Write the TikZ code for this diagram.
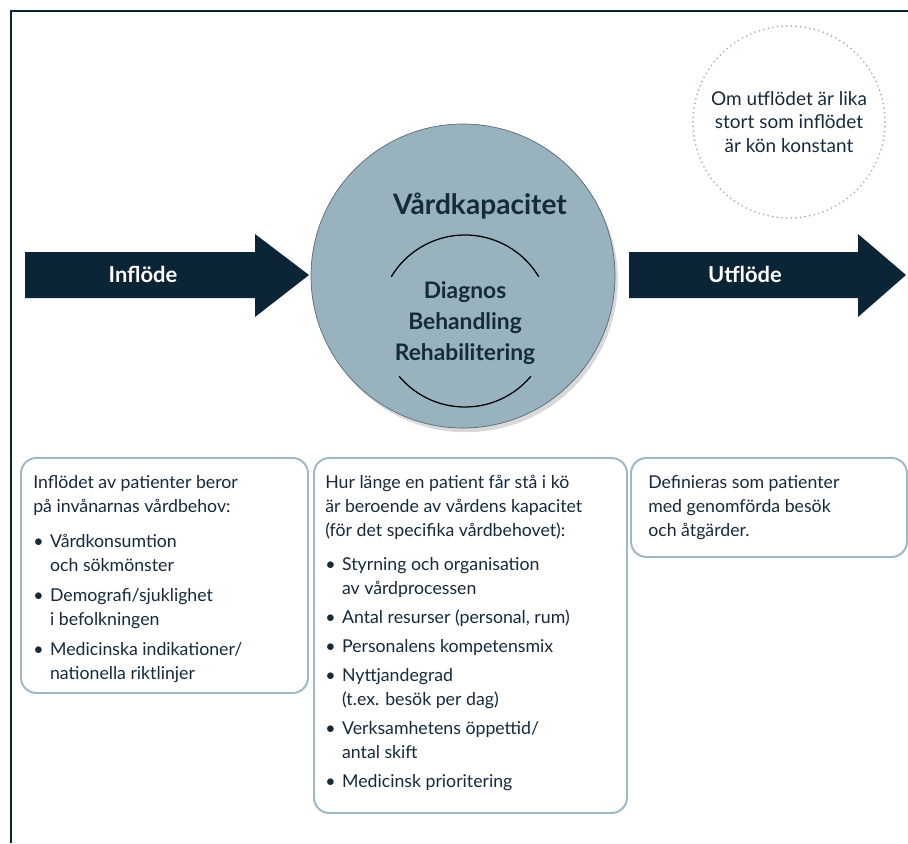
\documentclass[tikz,border=0pt]{standalone}
\usepackage{fontspec}
\setmainfont{Lato}
\usetikzlibrary{positioning, shadows}
\definecolor{navy}{RGB}{11,36,54}
\definecolor{textnavy}{RGB}{22,42,60}
\definecolor{capfill}{RGB}{152,178,190}
\definecolor{capline}{RGB}{88,106,118}
\definecolor{boxline}{RGB}{160,184,197}
\definecolor{dotline}{RGB}{160,180,192}

\newcommand{\itm}{\makebox[0.42cm][l]{\textbullet}}
\newcommand{\ind}{\hspace*{0.42cm}}

\begin{document}
\begin{tikzpicture}[
    frameline/.style={draw=navy, line width=1pt},
    flowarrow/.style={fill=navy},
    flowlbl/.style={text=white, inner sep=0pt,
        font=\bfseries\fontsize{15.6}{18}\selectfont},
    capcircle/.style={
        circle, fill=capfill, draw=capline, line width=0.5pt,
        minimum size=7.6cm,
        drop shadow={shadow xshift=2pt, shadow yshift=-3pt, opacity=0.3}
    },
    captitle/.style={text=textnavy, inner sep=0pt,
        font=\bfseries\fontsize{20}{24}\selectfont},
    capitems/.style={text=textnavy, inner sep=0pt, align=center,
        font=\bfseries\fontsize{16.2}{22}\selectfont},
    arcline/.style={draw=black, line width=0.9pt},
    %% dots: zero-length dashes with round caps
    notecircle/.style={
        circle, draw=dotline, line width=1.4pt, line cap=round,
        dash pattern=on 0pt off 3.3pt,
        minimum size=4.8cm, text=textnavy, align=center,
        font=\fontsize{13.5}{16.7}\selectfont
    },
    infobox/.style={
        rectangle, draw=boxline, line width=1.4pt, fill=white,
        rounded corners=11pt, anchor=north west, inner sep=0pt
    },
    infotext/.style={
        anchor=north west, inner sep=0pt, align=left, text=textnavy,
        font=\fontsize{12.6}{17.07}\selectfont
    }
]
\useasboundingbox (0,0) rectangle (22.7,-21.075);

%% ── Frame ────────────────────────────────────────────────────────────────────
\draw[frameline] (0.275,-21.075) |- (22.7,-0.275);

%% ── Flow arrows ──────────────────────────────────────────────────────────────
\fill[flowarrow] (0.625,-6.3) -- (6.375,-6.3) -- (6.375,-5.85) -- (7.725,-6.875)
    -- (6.375,-7.925) -- (6.375,-7.45) -- (0.625,-7.45) -- cycle;
\node[flowlbl] (inflow) at (3.575,-6.85) {Inflöde};

\fill[flowarrow] (15.725,-6.3) -- (21.45,-6.3) -- (21.45,-5.85) -- (22.65,-6.875)
    -- (21.45,-7.925) -- (21.45,-7.45) -- (15.725,-7.45) -- cycle;
\node[flowlbl] (outflow) at (18.625,-6.85) {Utflöde};

%% ── Capacity circle ──────────────────────────────────────────────────────────
\node[capcircle] (cap) at (11.575,-6.9) {};
\node[captitle] (captitle) at (12.0,-5.15) {Vårdkapacitet};
\coordinate (arcc) at ([xshift=0.05cm, yshift=-1.125cm]cap.center);
\draw[arcline] ([shift={(31:2.15)}]arcc) arc[start angle=31, end angle=149, radius=2.15];
\draw[arcline] ([shift={(-40:2.15)}]arcc) arc[start angle=-40, end angle=-140, radius=2.15];
\node[capitems] (capitems) at ([yshift=-0.05cm]arcc) {Diagnos\\Behandling\\Rehabilitering};

%% ── Note ─────────────────────────────────────────────────────────────────────
\node[notecircle] (note) at (19.725,-3.05)
    {Om utflödet är lika\\stort som inflödet\\är kön konstant};

%% ── Boxes ────────────────────────────────────────────────────────────────────
\node[infobox, minimum width=7.175cm, minimum height=5.875cm] (inbox)  at (0.5,-11.425) {};
\node[infobox, minimum width=7.825cm, minimum height=8.875cm] (capbox) at (7.825,-11.425) {};
\node[infobox, minimum width=6.9cm,   minimum height=2.475cm] (outbox) at (15.75,-11.425) {};

\node[infotext] (intext) at ([shift={(0.325,-0.46)}]inbox.north west)
    {Inflödet av patienter beror\\
     på invånarnas vårdbehov:\\[8pt]
     \itm Vårdkonsumtion\\
     \ind och sökmönster\\[4pt]
     \itm Demografi/sjuklighet\\
     \ind i befolkningen\\[4pt]
     \itm Medicinska indikationer/\\
     \ind nationella riktlinjer};

\node[infotext] (captext) at ([shift={(0.3,-0.46)}]capbox.north west)
    {Hur länge en patient får stå i kö\\
     är beroende av vårdens kapacitet\\
     (för det specifika vårdbehovet):\\[7pt]
     \itm Styrning och organisation\\
     \ind av vårdprocessen\\[3.5pt]
     \itm Antal resurser (personal, rum)\\[3.5pt]
     \itm Personalens kompetensmix\\[3.5pt]
     \itm Nyttjandegrad\\
     \ind (t.ex. besök per dag)\\[3.5pt]
     \itm Verksamhetens öppettid/\\
     \ind antal skift\\[3.5pt]
     \itm Medicinsk prioritering};

\node[infotext] (outtext) at ([shift={(0.45,-0.45)}]outbox.north west)
    {Definieras som patienter\\
     med genomförda besök\\
     och åtgärder.};

\end{tikzpicture}
\end{document}
